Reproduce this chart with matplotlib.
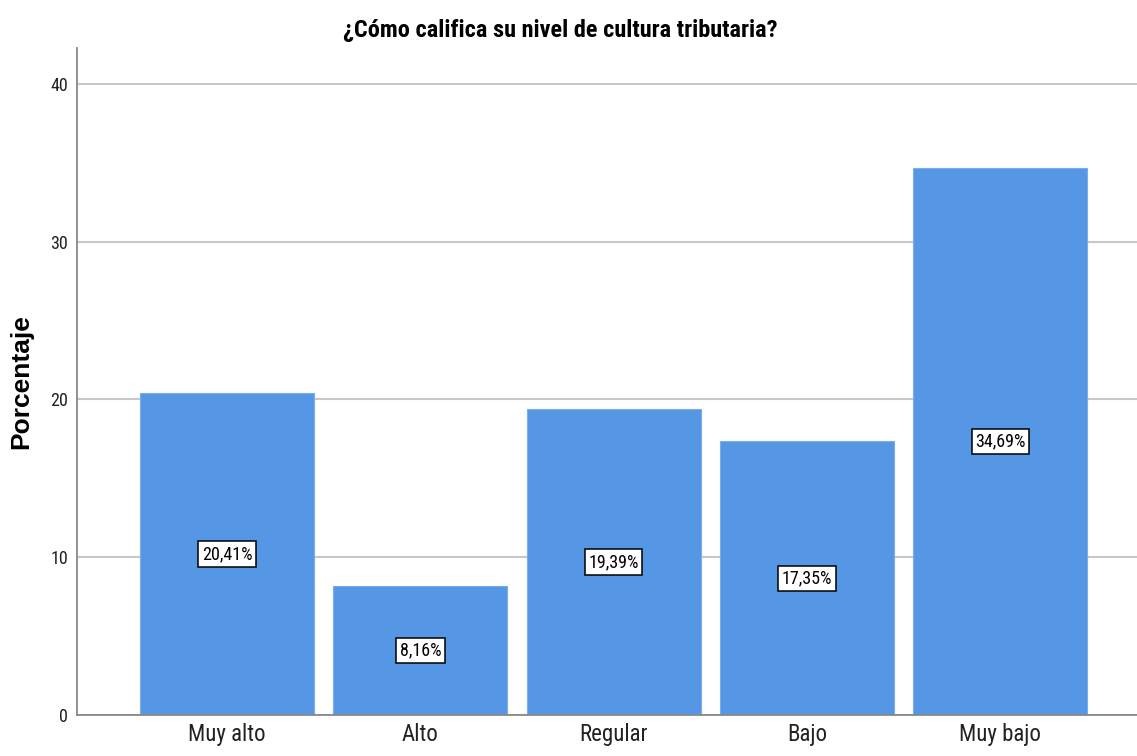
import matplotlib.pyplot as plt
import numpy as np

categories = ["Muy alto", "Alto", "Regular", "Bajo", "Muy bajo"]
percentages = [20.41, 8.16, 19.39, 17.35, 34.69]
labels = ["20,41%", "8,16%", "19,39%", "17,35%", "34,69%"]

cond = ["Roboto Condensed", "DejaVu Sans"]
plt.rcParams["font.family"] = ["Liberation Sans", "DejaVu Sans"]

fig = plt.figure(figsize=(11.37, 7.56), dpi=100)
ax = fig.add_axes([77 / 1137, 1 - 715 / 756, 1 - 77 / 1137, (715 - 48) / 756])

x = np.arange(len(categories))
ax.bar(x, percentages, width=0.9, color="#5596e5", edgecolor="#7aaeea",
       linewidth=0.8, zorder=2)

# value labels in white boxes at half bar height
for xi, v, lab in zip(x, percentages, labels):
    ax.text(xi, v / 2, lab, ha="center", va="center", fontsize=13,
            family=cond, zorder=3,
            bbox=dict(boxstyle="square,pad=0.2", fc="white", ec="black", lw=1.1))

ax.set_xlim(-0.776, 4.707)
ax.set_ylim(0, 42.28)
ax.set_yticks([0, 10, 20, 30, 40])
ax.set_xticks(x)
ax.set_xticklabels(categories, fontsize=16.5, family=cond)
for t in ax.get_yticklabels():
    t.set_fontsize(13)
    t.set_family(cond)
ax.tick_params(length=0, colors="#222222")
ax.tick_params(axis="x", pad=6)
ax.tick_params(axis="y", pad=6.5)

ax.grid(axis="y", color="#c8c8c8", linewidth=1.5, zorder=0)
ax.set_axisbelow(True)
for s in ["top", "right"]:
    ax.spines[s].set_visible(False)
for s in ["left", "bottom"]:
    ax.spines[s].set_color("#888888")
    ax.spines[s].set_linewidth(1.3)

ax.set_ylabel("Porcentaje", fontsize=19, fontweight="bold")
ax.yaxis.set_label_coords(-0.0415, 0.5)
fig.text(560 / 1137, 1 - 30 / 756, "¿Cómo califica su nivel de cultura tributaria?",
         ha="center", va="center", fontsize=17.5, fontweight="bold", family=cond)

fig.savefig("out.png", dpi=100)
